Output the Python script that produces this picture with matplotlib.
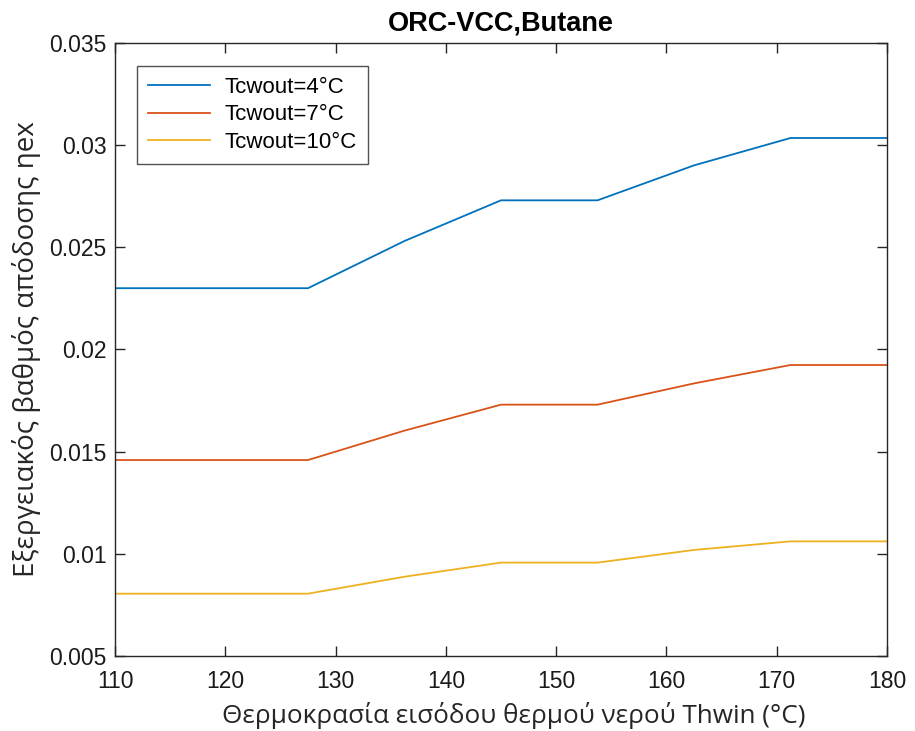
import matplotlib
matplotlib.use('Agg')
import matplotlib.pyplot as plt

plt.rcParams['font.family'] = ['Liberation Sans', 'DejaVu Sans']

# Data
thwin = [110, 118.75, 127.5, 136.25, 145, 153.75, 162.5, 171.25, 180]
eta_4 = [0.0230, 0.0230, 0.0230, 0.02531, 0.0273, 0.0273, 0.02901, 0.03035, 0.03035]
eta_7 = [0.01459, 0.01459, 0.01459, 0.01603, 0.0173, 0.0173, 0.01834, 0.01924, 0.01924]
eta_10 = [0.00805, 0.00805, 0.00805, 0.00888, 0.00957, 0.00957, 0.01019, 0.01061, 0.01061]
labels = ['Tcwout=4°C', 'Tcwout=7°C', 'Tcwout=10°C']

xticks = [110, 120, 130, 140, 150, 160, 170, 180]
yticks = [0.005, 0.01, 0.015, 0.02, 0.025, 0.03, 0.035]
ytick_labels = ['0.005', '0.01', '0.015', '0.02', '0.025', '0.03', '0.035']

colors = ['#0072BD', '#D95319', '#EDB120']

fig = plt.figure(figsize=(9.15, 7.31), dpi=100)
ax = fig.add_axes([0.1257, 0.1026, 0.8437, 0.8386])

for ys, lab, c in zip([eta_4, eta_7, eta_10], labels, colors):
    ax.plot(thwin, ys, color=c, linewidth=1.3, label=lab)

ax.set_xlim(110, 180)
ax.set_ylim(0.005, 0.035)
ax.set_xticks(xticks)
ax.set_yticks(yticks)
ax.set_yticklabels(ytick_labels)
ax.tick_params(direction='in', top=True, right=True, labelsize=16.5,
               length=7, width=1, colors='#262626', labelcolor='#1a1a1a')
ax.tick_params(axis='x', pad=10)
ax.tick_params(axis='y', pad=6)
for s in ax.spines.values():
    s.set_linewidth(1.0)
    s.set_color('#262626')

ax.set_title('ORC-VCC,Butane', fontsize=19.5, fontweight='bold', pad=9)
ax.set_xlabel('Θερμοκρασία εισόδου θερμού νερού Thwin (°C)', fontsize=18.8,
              family=['Open Sans', 'DejaVu Sans'], color='#262626')
ax.xaxis.set_label_coords(0.516, -0.075)
ax.set_ylabel('Εξεργειακός βαθμός απόδοσης ηex', fontsize=20,
              family=['Open Sans', 'DejaVu Sans'], color='#262626', labelpad=6)

leg = ax.legend(loc='upper left', bbox_to_anchor=(0.028, 0.963), fontsize=16,
                frameon=True, fancybox=False, edgecolor='#262626',
                handlelength=2.8, borderpad=0.5, labelspacing=0.3,
                handletextpad=0.65, borderaxespad=0)
leg.get_frame().set_linewidth(1.0)

fig.savefig('out.png', dpi=100)
